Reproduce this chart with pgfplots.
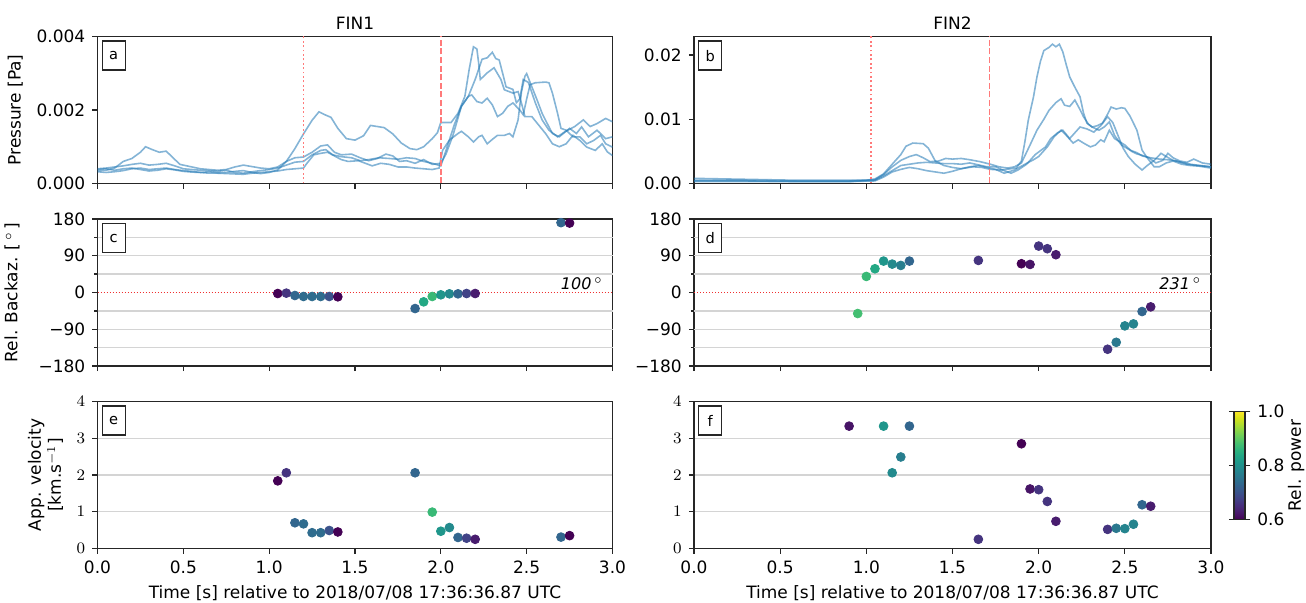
\documentclass[border=0pt]{standalone}
\usepackage{fontspec}
\setmainfont{DejaVu Sans}
\usepackage{pgfplots}
\usepackage{pgfplotstable}
\pgfplotsset{compat=1.18}
\usepgfplotslibrary{colormaps}

\definecolor{tabblue}{HTML}{1F77B4}
\definecolor{redl}{HTML}{FF7A7A}
\definecolor{redz}{HTML}{F03030}

\newcommand{\fs}{\fontsize{8.5}{10}\selectfont}

\tikzset{
  lab/.style={draw=black!85, line width=0.65pt, fill=white, anchor=north west,
    xshift=2pt, yshift=-2pt, minimum width=11.5pt, minimum height=14.5pt,
    inner sep=0pt, font=\fontsize{7.3}{8}\selectfont},
}

\pgfplotsset{
  panel/.style={
    scale only axis, width=257.5pt, height=73.5pt,
    xmin=0, xmax=3,
    xtick={0,0.5,1,1.5,2,2.5,3},
    tick align=outside, xtick pos=bottom, ytick pos=left,
    major tick length=2.6pt, minor tick length=1.6pt,
    axis line style={line width=0.65pt, black!85},
    tick style={line width=0.65pt, black!85},
    tick label style={font=\fs},
    label style={font=\fs},
    title style={font=\fs, yshift=-6pt},
    xlabel style={yshift=1pt},
    scaled ticks=false,
    major grid style={black!17, line width=0.65pt},
  },
  upper/.style={xticklabels={}},
  lower/.style={xticklabels={0.0,0.5,1.0,1.5,2.0,2.5,3.0},
    xlabel={Time [s] relative to 2018/07/08 17:36:36.87 UTC}},
  bazi/.style={ymin=-180, ymax=180, ytick={-180,-90,0,90,180},
    yticklabels={−180,−90,0,90,180}, minor ytick={-135,-45,45,135},
    extra y ticks={-135,-90,-45,45,90,135}, extra y tick labels={},
    extra y tick style={grid=major, major tick length=0pt},
    colormap/viridis, point meta min=0.6, point meta max=1},
  velo/.style={ymin=0, ymax=4, ytick={0,1,2,3,4}, ymajorgrids,
    colormap/viridis, point meta min=0.6, point meta max=1},
  tr/.style={tabblue, line width=0.8pt, opacity=0.55, no markers},
  sc/.style={only marks, scatter, scatter src=explicit, mark=*, mark size=2.2pt,
    scatter/use mapped color={draw=mapped color, fill=mapped color}},
  zl/.style={draw=redz, line width=0.5pt, dash pattern=on 0.6pt off 0.9pt},
  vdot/.style={draw=redl, line width=0.9pt, dash pattern=on 0.9pt off 1.3pt},
  vdash/.style={draw=redl, line width=0.9pt, dash pattern=on 3pt off 1.3pt},
}

% FIN1 relative back-azimuth / velocity / power
\pgfplotstableread{
t b v p
1.05 -2.5 1.84 0.60
1.10 -1.6 2.06 0.66
1.15 -7.4 0.70 0.73
1.20 -9.8 0.67 0.74
1.25 -9.8 0.43 0.74
1.30 -9.8 0.43 0.74
1.35 -9.8 0.49 0.70
1.40 -10.6 0.45 0.60
1.85 -39.3 2.06 0.73
1.90 -22.9 4.02 0.84
1.95 -9.8 0.99 0.87
2.00 -5.7 0.47 0.81
2.05 -3.3 0.57 0.79
2.10 -3.3 0.30 0.73
2.15 -2.5 0.28 0.68
2.20 -2.5 0.25 0.63
2.70 171 0.31 0.73
2.75 170 0.35 0.60
}\finone

% FIN2 relative back-azimuth / power
\pgfplotstableread{
t b p
0.95 -51.5 0.88
1.00 39.3 0.87
1.05 58.1 0.84
1.10 76.9 0.81
1.15 69.5 0.79
1.20 66.3 0.77
1.25 76.9 0.73
1.65 78.5 0.66
1.90 70.4 0.60
1.95 68.7 0.62
2.00 113.7 0.66
2.05 107.2 0.66
2.10 92.5 0.63
2.40 -139 0.66
2.45 -122 0.76
2.50 -81.8 0.78
2.55 -76.9 0.78
2.60 -46.6 0.73
2.65 -35.2 0.63
}\fintwob

% FIN2 apparent velocity / power
\pgfplotstableread{
t v p
0.90 3.33 0.62
1.10 3.33 0.81
1.15 2.06 0.79
1.20 2.49 0.77
1.25 3.33 0.73
1.65 0.25 0.66
1.90 2.85 0.60
1.95 1.62 0.62
2.00 1.60 0.66
2.05 1.28 0.66
2.10 0.74 0.63
2.40 0.52 0.66
2.45 0.55 0.76
2.50 0.54 0.78
2.55 0.66 0.78
2.60 1.19 0.73
2.65 1.15 0.63
}\fintwov

\begin{document}
\begin{tikzpicture}
\path[use as bounding box] (0,0) rectangle (653pt,301.5pt);

% ---------- a: FIN1 pressure ----------
\begin{axis}[panel, upper, at={(48.75pt,209.75pt)}, anchor=south west,
  ymin=0, ymax=4, ytick={0,2,4}, yticklabels={0.000,0.002,0.004},
  ylabel={Pressure [Pa]}, title={FIN1}]
\addplot[tr] table {
0.00 0.38
0.05 0.40
0.10 0.36
0.15 0.40
0.20 0.42
0.25 0.38
0.30 0.34
0.35 0.36
0.40 0.40
0.45 0.37
0.50 0.33
0.55 0.31
0.60 0.30
0.65 0.32
0.70 0.29
0.75 0.30
0.80 0.33
0.85 0.35
0.90 0.30
0.95 0.27
1.00 0.30
1.05 0.37
1.10 0.60
1.15 0.95
1.20 1.35
1.25 1.72
1.29 1.95
1.32 1.88
1.36 1.80
1.40 1.50
1.45 1.22
1.50 1.18
1.55 1.30
1.59 1.58
1.63 1.55
1.67 1.52
1.72 1.35
1.77 1.10
1.82 0.95
1.86 0.92
1.90 1.00
1.95 1.22
1.98 1.38
2.00 1.66
2.06 1.66
2.10 1.91
2.14 2.37
2.165 3.10
2.19 3.72
2.21 3.66
2.22 3.29
2.23 2.83
2.27 3.01
2.31 3.15
2.35 2.83
2.37 2.55
2.42 2.46
2.45 2.50
2.47 2.18
2.49 1.82
2.53 1.82
2.57 1.59
2.61 1.36
2.65 1.08
2.69 1.00
2.73 1.08
2.77 1.31
2.81 1.17
2.85 0.99
2.90 0.90
2.94 1.08
2.97 0.86
3.00 0.76
};
\addplot[tr] table {
0.00 0.35
0.05 0.36
0.10 0.42
0.15 0.60
0.20 0.68
0.25 0.85
0.28 1.00
0.32 0.92
0.36 0.85
0.40 0.88
0.44 0.70
0.48 0.52
0.55 0.45
0.60 0.40
0.65 0.38
0.70 0.36
0.75 0.38
0.80 0.45
0.85 0.50
0.90 0.46
0.95 0.42
1.00 0.40
1.05 0.45
1.10 0.60
1.15 0.70
1.20 0.72
1.25 0.85
1.30 1.02
1.34 1.05
1.38 0.85
1.42 0.78
1.48 0.80
1.53 0.70
1.58 0.62
1.63 0.68
1.68 0.80
1.72 0.75
1.76 0.60
1.80 0.62
1.85 0.55
1.90 0.65
1.95 0.52
2.00 0.55
2.03 0.80
2.07 1.30
2.12 2.10
2.16 2.37
2.20 2.83
2.24 3.38
2.27 3.42
2.30 3.57
2.32 3.40
2.34 3.36
2.36 3.00
2.38 2.63
2.42 2.56
2.44 2.20
2.46 2.30
2.48 2.83
2.51 2.75
2.55 2.20
2.59 1.73
2.63 1.45
2.68 1.27
2.72 1.40
2.78 1.55
2.83 1.73
2.87 1.55
2.91 1.63
2.96 1.77
3.00 1.68
};
\addplot[tr] table {
0.00 0.40
0.05 0.42
0.10 0.45
0.15 0.48
0.20 0.52
0.25 0.55
0.30 0.50
0.35 0.52
0.40 0.55
0.45 0.48
0.50 0.40
0.55 0.38
0.60 0.36
0.65 0.35
0.70 0.33
0.75 0.36
0.80 0.30
0.85 0.28
0.90 0.32
0.95 0.35
1.00 0.38
1.05 0.42
1.10 0.50
1.15 0.58
1.20 0.60
1.25 0.78
1.30 0.90
1.33 0.92
1.37 0.78
1.42 0.73
1.48 0.70
1.53 0.62
1.58 0.65
1.64 0.70
1.70 0.68
1.75 0.66
1.80 0.70
1.85 0.68
1.90 0.60
1.95 0.55
2.00 0.48
2.03 0.90
2.08 1.62
2.12 2.10
2.16 2.37
2.18 2.41
2.21 2.23
2.24 2.19
2.27 2.32
2.30 2.14
2.33 1.82
2.36 1.91
2.39 2.10
2.42 2.19
2.46 2.00
2.48 1.87
2.50 2.30
2.52 2.69
2.55 2.74
2.61 2.76
2.63 2.74
2.65 2.46
2.68 1.91
2.70 1.50
2.73 1.45
2.77 1.27
2.81 1.27
2.85 1.08
2.89 1.17
2.93 1.31
2.96 1.08
3.00 0.99
};
\addplot[tr] table {
0.00 0.32
0.05 0.30
0.10 0.32
0.15 0.35
0.20 0.40
0.25 0.42
0.30 0.38
0.35 0.40
0.40 0.42
0.45 0.38
0.50 0.35
0.55 0.33
0.60 0.30
0.65 0.28
0.70 0.28
0.75 0.27
0.80 0.26
0.85 0.25
0.90 0.28
0.95 0.30
1.00 0.32
1.05 0.34
1.10 0.38
1.15 0.40
1.20 0.42
1.22 0.55
1.26 0.78
1.30 0.82
1.34 0.85
1.38 0.75
1.42 0.65
1.46 0.60
1.52 0.62
1.56 0.55
1.60 0.48
1.65 0.55
1.70 0.52
1.75 0.45
1.80 0.45
1.85 0.42
1.90 0.40
1.95 0.38
1.99 0.42
2.01 0.90
2.05 1.18
2.10 1.36
2.12 1.42
2.16 1.27
2.19 1.13
2.22 1.27
2.24 1.31
2.27 1.08
2.30 1.20
2.33 1.31
2.37 1.31
2.40 1.36
2.42 1.27
2.45 1.73
2.47 2.50
2.49 2.92
2.50 2.99
2.52 2.75
2.56 2.28
2.59 1.91
2.62 1.63
2.65 1.36
2.69 1.27
2.75 1.50
2.79 1.36
2.82 1.54
2.86 1.27
2.91 1.45
2.96 1.22
3.00 1.27
};
\addplot[vdot] coordinates {(1.2,0) (1.2,4)};
\addplot[vdash] coordinates {(2.0,0) (2.0,4)};
\node[lab] at (rel axis cs:0,1) {a};
\end{axis}

% ---------- b: FIN2 pressure ----------
\begin{axis}[panel, upper, at={(347pt,209.75pt)}, anchor=south west, width=258.5pt,
  ymin=0, ymax=22.9, ytick={0,10,20}, yticklabels={0.00,0.01,0.02},
  title={FIN2}]
\addplot[tr] table {
0.00 0.8
0.20 0.7
0.40 0.6
0.60 0.5
0.80 0.5
1.00 0.5
1.05 0.7
1.10 1.5
1.15 3.0
1.20 4.5
1.23 5.8
1.27 6.3
1.33 6.2
1.36 5.5
1.40 3.5
1.45 2.8
1.50 2.5
1.55 2.3
1.62 2.6
1.67 2.5
1.72 2.2
1.78 2.1
1.84 2.3
1.87 2.4
1.90 3.5
1.92 6.5
1.94 9.9
1.97 13.5
1.99 16.6
2.01 19.0
2.03 20.7
2.06 21.2
2.08 21.7
2.10 21.3
2.12 21.7
2.14 20.5
2.16 18.5
2.18 16.6
2.21 15.0
2.24 13.5
2.26 11.0
2.28 9.4
2.31 8.8
2.35 8.3
2.38 8.8
2.41 9.6
2.44 7.5
2.48 6.0
2.53 5.2
2.57 4.8
2.60 4.3
2.65 4.0
2.70 3.8
2.75 3.7
2.80 3.5
2.86 3.0
2.92 2.8
3.00 2.6
};
\addplot[tr] table {
0.00 0.5
0.30 0.5
0.60 0.4
0.90 0.4
1.05 0.6
1.10 1.4
1.15 2.6
1.20 3.6
1.25 4.2
1.29 4.5
1.33 4.0
1.37 3.4
1.42 3.5
1.46 3.9
1.50 3.8
1.55 3.9
1.60 3.7
1.66 3.4
1.72 3.0
1.77 2.6
1.82 2.4
1.86 2.6
1.90 3.2
1.95 6.0
1.99 8.3
2.03 10.0
2.06 11.4
2.10 12.6
2.13 13.2
2.15 12.2
2.18 12.0
2.21 13.0
2.24 11.5
2.26 10.4
2.29 9.2
2.31 8.8
2.34 9.0
2.37 9.4
2.40 10.8
2.42 11.9
2.45 11.6
2.48 11.8
2.50 11.7
2.53 10.5
2.57 8.3
2.60 5.2
2.63 4.0
2.67 2.6
2.70 2.6
2.74 3.2
2.78 3.5
2.83 3.0
2.88 2.8
2.93 2.7
3.00 2.4
};
\addplot[tr] table {
0.00 0.4
0.30 0.4
0.60 0.3
0.90 0.3
1.05 0.5
1.10 1.2
1.15 2.0
1.20 2.8
1.25 3.0
1.30 3.2
1.35 3.3
1.40 3.2
1.45 3.1
1.50 3.1
1.55 3.0
1.60 3.2
1.65 2.9
1.70 2.6
1.75 2.6
1.80 2.0
1.84 1.6
1.88 2.1
1.93 3.0
1.98 4.5
2.04 5.7
2.07 7.0
2.11 7.9
2.14 8.3
2.18 7.0
2.21 7.9
2.24 8.8
2.28 8.5
2.32 8.0
2.36 9.0
2.40 10.4
2.43 9.5
2.46 7.5
2.49 5.5
2.52 4.2
2.56 3.0
2.60 2.1
2.63 2.8
2.67 3.6
2.71 4.7
2.74 4.2
2.78 3.6
2.83 3.3
2.88 3.0
2.94 2.8
3.00 2.6
};
\addplot[tr] table {
0.00 0.3
0.30 0.3
0.60 0.3
0.90 0.3
1.05 0.4
1.10 1.0
1.15 1.8
1.20 2.2
1.25 2.5
1.30 2.3
1.35 2.0
1.40 1.8
1.45 1.6
1.50 1.9
1.55 2.3
1.60 2.6
1.65 2.8
1.70 2.5
1.75 2.2
1.80 1.6
1.86 2.1
1.92 3.0
1.97 3.7
2.00 4.2
2.05 5.7
2.09 7.3
2.13 8.3
2.16 7.5
2.20 6.3
2.23 6.8
2.26 6.3
2.30 5.7
2.33 6.0
2.36 6.8
2.38 6.5
2.41 8.3
2.44 7.0
2.47 6.5
2.50 6.0
2.54 5.0
2.57 4.6
2.60 4.4
2.64 4.0
2.68 3.2
2.72 3.6
2.75 4.7
2.78 4.0
2.82 3.5
2.86 3.3
2.90 3.8
2.95 3.2
3.00 3.0
};
\addplot[vdot] coordinates {(1.028,0) (1.028,22.9)};
\addplot[vdash] coordinates {(1.715,0) (1.715,22.9)};
\node[lab] at (rel axis cs:0,1) {b};
\end{axis}

% ---------- c: FIN1 back-azimuth ----------
\begin{axis}[panel, upper, bazi, at={(48.75pt,118.5pt)}, anchor=south west,
  ylabel={Rel. Backaz. [\,$^\circ$\,]}]
\addplot[zl] coordinates {(0,0) (3,0)};
\addplot[sc] table[x=t, y=b, meta=p] {\finone};
\node[lab] at (rel axis cs:0,1) {c};
\node[anchor=base east, font=\fontsize{8}{9}\selectfont\itshape] at (axis cs:2.985,8) {100\,$^\circ$};
\end{axis}

% ---------- d: FIN2 back-azimuth ----------
\begin{axis}[panel, upper, bazi, at={(347pt,118.5pt)}, anchor=south west, width=258.5pt]
\addplot[zl] coordinates {(0,0) (3,0)};
\addplot[sc] table[x=t, y=b, meta=p] {\fintwob};
\node[lab] at (rel axis cs:0,1) {d};
\node[anchor=base east, font=\fontsize{8}{9}\selectfont\itshape] at (axis cs:2.985,8) {231\,$^\circ$};
\end{axis}

% ---------- e: FIN1 velocity ----------
\begin{axis}[panel, lower, velo, at={(48.75pt,27.25pt)}, anchor=south west,
  ylabel={App. velocity\\{}[km.s$^{-1}$]}, ylabel style={align=center}]
\addplot[sc] table[x=t, y=v, meta=p] {\finone};
\node[lab] at (rel axis cs:0,1) {e};
\end{axis}

% ---------- f: FIN2 velocity ----------
\begin{axis}[panel, lower, velo, at={(347pt,27.25pt)}, anchor=south west, width=258.5pt,
  colorbar,
  colorbar style={
    at={(parent axis.north east)}, anchor=north west, xshift=3pt, yshift=-5pt,
    width=5.5pt, height=54pt,
    ytick={0.6,0.8,1.0}, yticklabels={0.6,0.8,1.0},
    tick align=outside, major tick length=2.6pt,
    tick style={line width=0.65pt, black!85},
    axis line style={line width=0.65pt, black!85},
    yticklabel style={font=\fs},
    ylabel={Rel. power},
    ylabel style={font=\fs, at={(axis description cs:5.64,0.5)}, anchor=center},
  }]
\addplot[sc] table[x=t, y=v, meta=p] {\fintwov};
\node[lab] at (rel axis cs:0,1) {f};
\end{axis}
\end{tikzpicture}
\end{document}
